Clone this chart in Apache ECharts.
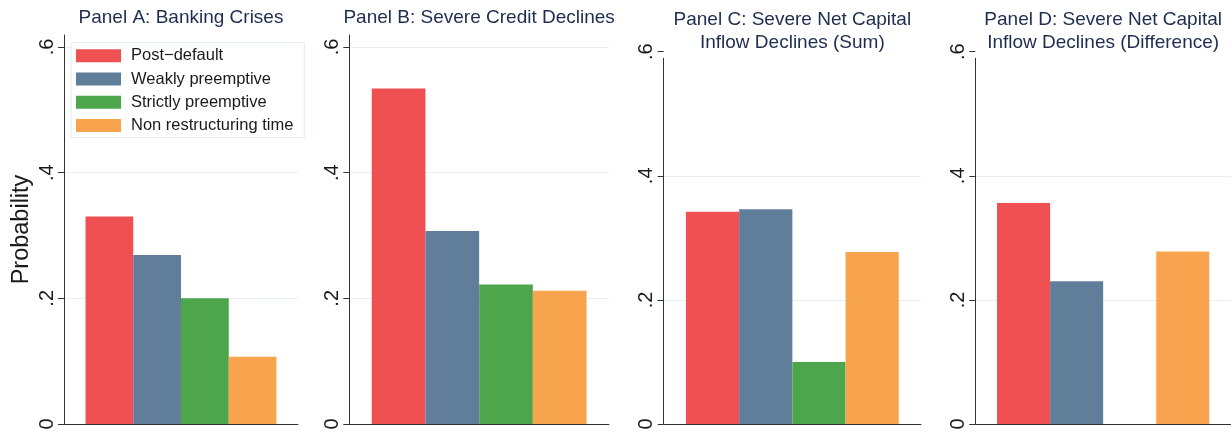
<!DOCTYPE html>
<html><head><meta charset="utf-8">
<script src="https://cdn.jsdelivr.net/npm/echarts@6/dist/echarts.min.js"></script>
<style>html,body{margin:0;padding:0;background:#fff}#c{width:1231px;height:433px}</style>
</head><body><div id="c"></div>
<script>
const panelTitles = ['Panel A: Banking Crises', 'Panel B: Severe Credit Declines', 'Panel C: Severe Net Capital\nInflow Declines (Sum)', 'Panel D: Severe Net Capital\nInflow Declines (Difference)'];
const panelKeys = ['A', 'B', 'C', 'D'];
const seriesNames = ['Post\u2212default', 'Weakly preemptive', 'Strictly preemptive', 'Non restructuring time'];
const postDefault = [0.330, 0.534, 0.342, 0.356];
const weaklyPreemptive = [0.269, 0.307, 0.346, 0.230];
const strictlyPreemptive = [0.200, 0.222, 0.100, null];
const nonRestructuring = [0.107, 0.212, 0.277, 0.278];
const yTickValues = [0, 0.2, 0.4, 0.6];
const yTickLabels = ['0', '.2', '.4', '.6'];
const yAxisTitle = 'Probability';

const seriesValues = [postDefault, weaklyPreemptive, strictlyPreemptive, nonRestructuring];
const colors = ['#ef5052', '#607e99', '#4ea64c', '#f8a44e'];
const FONT = '"Liberation Sans", Arial, Helvetica, sans-serif';
const W = 1231, BASE = 424, BOTTOM = 433 - BASE;
const layout = [
  {left: 64, right: 933, top: 35, labelTop: 46.9, gap: '18.4%', titleY: 17.3},
  {left: 349.3, right: 622, top: 35, labelTop: 46.9, gap: '17.3%', titleY: 17.3},
  {left: 663.7, right: 310, top: 58.3, labelTop: 51.7, gap: '17.3%', titleY: 31.3},
  {left: 975.3, right: 0, top: 58.3, labelTop: 51.7, gap: '17%', titleY: 31.3}
];
const tickMax = yTickValues[yTickValues.length - 1];
const interval = yTickValues[1] - yTickValues[0];
function tickLabel(v) {
  for (let i = 0; i < yTickValues.length; i++) if (Math.abs(yTickValues[i] - v) < 1e-9) return yTickLabels[i];
  return '';
}

const grid = [], xAxis = [], yAxis = [], series = [], graphic = [];
layout.forEach((L, p) => {
  grid.push({left: L.left, right: L.right, top: L.top, bottom: BOTTOM, containLabel: false});
});
layout.forEach((L, p) => {
  grid.push({left: L.left, right: L.right, top: L.labelTop, bottom: BOTTOM, containLabel: false});
});
layout.forEach((L, p) => {
  xAxis.push({type: 'category', gridIndex: p, data: [panelKeys[p]],
    axisLine: {show: true, lineStyle: {color: '#333', width: 1}},
    axisTick: {show: false}, axisLabel: {show: false}, splitLine: {show: false}});
  const axMax = tickMax * (BASE - L.top) / (BASE - L.labelTop);
  yAxis.push({type: 'value', gridIndex: p, min: 0, max: axMax, interval: interval,
    axisLine: {show: true, lineStyle: {color: '#333', width: 1}},
    axisTick: {show: false}, axisLabel: {show: false},
    splitLine: {show: true, showMinLine: false, showMaxLine: false, lineStyle: {color: '#e6eff1', width: 1}},
    name: p === 0 ? yAxisTitle : '', nameLocation: 'middle', nameRotate: 90, nameGap: 30,
    nameTextStyle: {fontFamily: FONT, fontSize: 23.5, color: '#1a1a1a'}});
});
layout.forEach((L, p) => {
  xAxis.push({type: 'category', gridIndex: 4 + p, data: [panelKeys[p]], show: false});
  yAxis.push({type: 'value', gridIndex: 4 + p, min: 0, max: tickMax, interval: interval,
    axisLine: {show: false},
    axisTick: {show: true, length: 6, lineStyle: {color: '#333', width: 1}},
    axisLabel: {show: true, rotate: 90, margin: 7, fontFamily: FONT, fontSize: 20, color: '#1a1a1a', formatter: tickLabel},
    splitLine: {show: false}});
});
layout.forEach((L, p) => {
  seriesValues.forEach((vals, s) => {
    series.push({type: 'bar', name: seriesNames[s], xAxisIndex: p, yAxisIndex: p,
      data: [vals[p]], barGap: '0%', barCategoryGap: L.gap,
      itemStyle: {color: colors[s]}, emphasis: {disabled: true}});
  });
  graphic.push({type: 'text', x: (L.left + (W - L.right)) / 2, y: L.titleY, z: 10,
    style: {text: panelTitles[p], font: '19px ' + FONT, fill: '#1e2c50', align: 'center', verticalAlign: 'middle', lineHeight: 22.7}});
});

const chart = echarts.init(document.getElementById('c'), null, {renderer: 'canvas'});
chart.setOption({
  animation: false,
  backgroundColor: '#fff',
  grid, xAxis, yAxis, series, graphic,
  legend: {show: true, data: seriesNames, orient: 'vertical', left: 71, top: 42.7,
    padding: [4, 11, 3, 5], itemGap: 5.3, itemWidth: 45, itemHeight: 13, icon: 'rect',
    backgroundColor: '#fff', borderColor: '#e3ecee', borderWidth: 1, selectedMode: false,
    textStyle: {fontFamily: FONT, fontSize: 16.5, color: '#1a1a1a', lineHeight: 18, padding: [0, 0, 0, 5]}}
});
</script></body></html>
